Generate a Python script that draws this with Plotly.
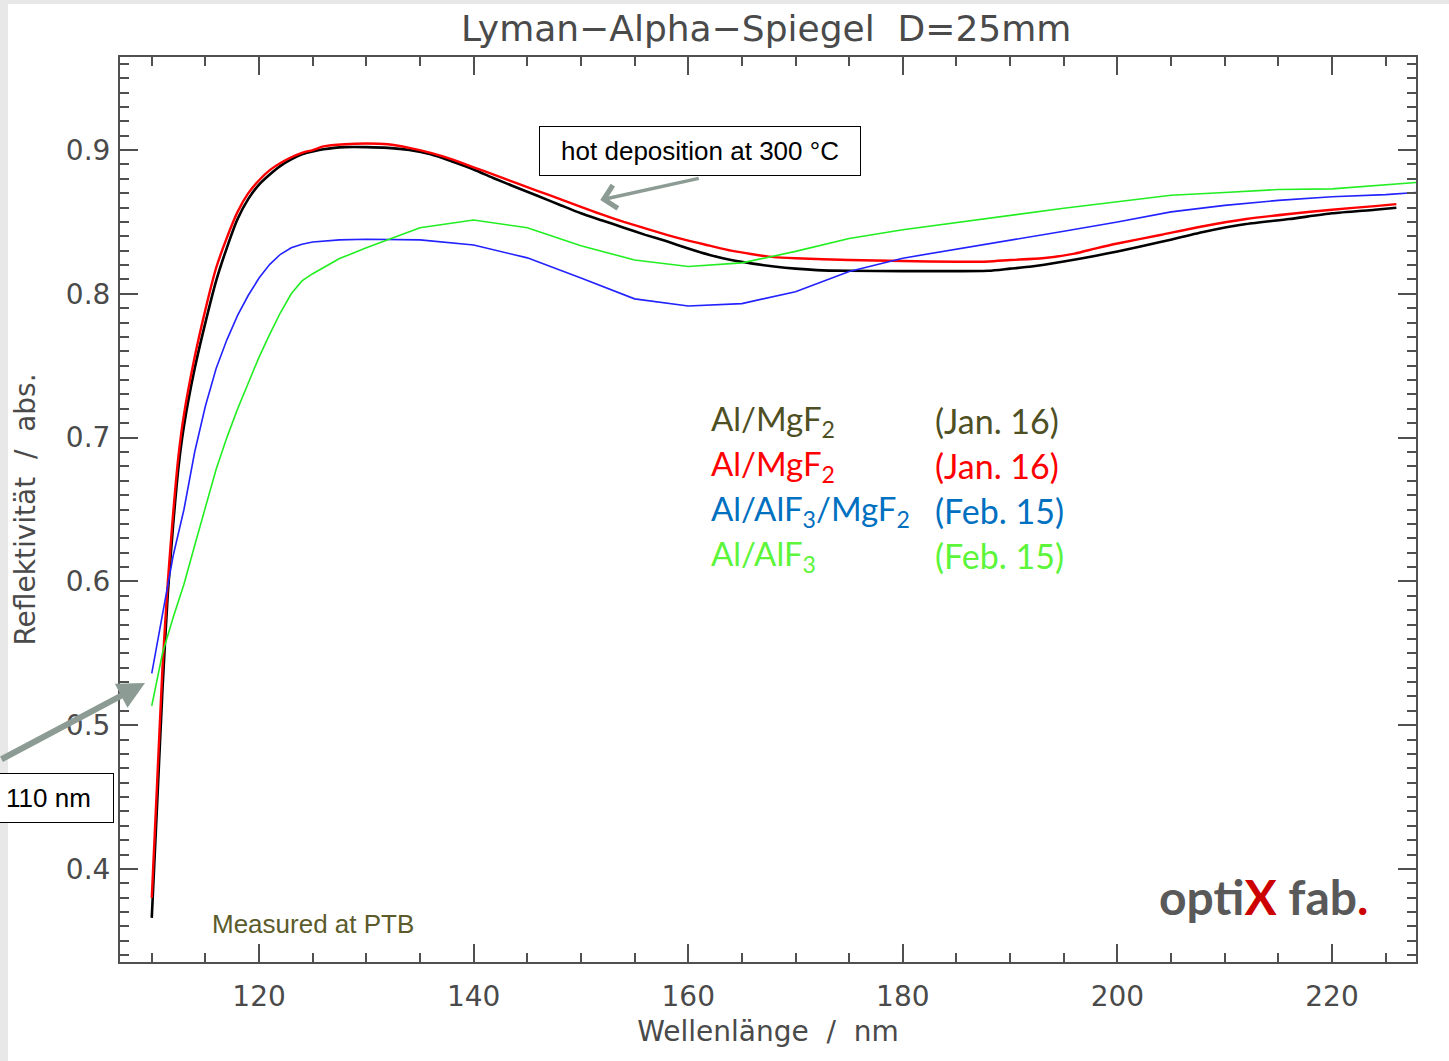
import plotly.graph_objects as go

# ---- data ----
black_x = [110.0, 110.5, 111.0, 111.5, 112.0, 112.5, 113.0, 114.0, 115.0, 116.0, 117.0, 118.0, 119.0, 120.0,
           121.0, 122.0, 123.0, 124.0, 125.0, 126.0, 127.0, 128.0, 130.0, 132.0, 134.0, 136.0, 138.0, 140.0,
           142.0, 144.0, 146.0, 148.0, 150.0, 152.0, 154.0, 156.0, 158.0, 160.0, 162.0, 164.0, 166.0, 168.0,
           170.0, 172.0, 175.0, 180.0, 185.0, 188.0, 190.0, 192.0, 195.0, 198.0, 200.0, 204.0, 208.0, 212.0,
           216.0, 220.0, 224.0, 226.0]
black_y = [0.366, 0.445, 0.525, 0.592, 0.640, 0.680, 0.708, 0.748, 0.780, 0.809, 0.832, 0.852, 0.866, 0.876,
           0.883, 0.889, 0.8935, 0.897, 0.899, 0.9005, 0.9015, 0.902, 0.902, 0.9015, 0.900, 0.897, 0.892, 0.8865,
           0.880, 0.874, 0.868, 0.862, 0.856, 0.851, 0.846, 0.841, 0.8365, 0.8315, 0.827, 0.8235, 0.821, 0.819,
           0.8175, 0.8165, 0.816, 0.8158, 0.8158, 0.816, 0.8175, 0.819, 0.8225, 0.8265, 0.8295, 0.836, 0.843, 0.8485,
           0.852, 0.856, 0.8585, 0.8599]

red_x = [110.0, 110.5, 111.0, 111.5, 112.0, 112.5, 113.0, 114.0, 115.0, 116.0, 117.0, 118.0, 119.0, 120.0,
         121.0, 122.0, 123.0, 124.0, 125.0, 126.0, 128.0, 130.0, 132.0, 134.0, 136.0, 138.0, 140.0, 142.0,
         144.0, 146.0, 148.0, 150.0, 152.0, 154.0, 156.0, 158.0, 160.0, 162.0, 164.0, 166.0, 168.0, 170.0,
         175.0, 180.0, 185.0, 188.0, 190.0, 193.0, 196.0, 198.0, 200.0, 204.0, 208.0, 212.0, 216.0, 220.0,
         224.0, 226.0]
red_y = [0.380, 0.460, 0.540, 0.600, 0.648, 0.688, 0.716, 0.756, 0.789, 0.818, 0.839, 0.857, 0.870, 0.879,
         0.886, 0.891, 0.895, 0.898, 0.900, 0.9025, 0.904, 0.9045, 0.904, 0.9015, 0.898, 0.8935, 0.888, 0.8825,
         0.877, 0.8715, 0.866, 0.8605, 0.855, 0.850, 0.8455, 0.841, 0.837, 0.8335, 0.830, 0.8275, 0.8255, 0.8247,
         0.8235, 0.8228, 0.8223, 0.8225, 0.8235, 0.8247, 0.828, 0.8316, 0.835, 0.8409, 0.847, 0.852, 0.8555, 0.8585,
         0.861, 0.8624]

blue_x = [110, 111, 112, 113, 114, 115, 116, 117, 118, 119, 120, 121, 122, 123, 124, 125, 127.5, 130, 135,
          140, 145, 150, 155, 160, 165, 170, 175, 180, 185, 190, 195, 200, 205, 210, 215, 220, 225, 228]
blue_y = [0.536, 0.578, 0.618, 0.650, 0.690, 0.722, 0.748, 0.768, 0.785, 0.799, 0.811, 0.8205, 0.8275, 0.832,
          0.8345, 0.836, 0.8375, 0.838, 0.8375, 0.834, 0.825, 0.811, 0.7965, 0.7915, 0.7932, 0.8015, 0.8155,
          0.8248, 0.831, 0.837, 0.8435, 0.850, 0.857, 0.8615, 0.865, 0.8675, 0.869, 0.8705]

green_x = [110, 111, 112, 113, 114, 115, 116, 117, 118, 119, 120, 121, 122, 123, 124, 125, 127.5, 130, 135,
           140, 145, 150, 155, 160, 165, 170, 175, 180, 185, 190, 195, 200, 205, 210, 215, 220, 225, 228]
green_y = [0.5134, 0.550, 0.575, 0.598, 0.625, 0.652, 0.678, 0.700, 0.720, 0.738, 0.756, 0.772, 0.787, 0.800,
           0.809, 0.814, 0.8245, 0.832, 0.846, 0.8513, 0.846, 0.8335, 0.8235, 0.819, 0.8215, 0.8295, 0.8385,
           0.8445, 0.8495, 0.855, 0.8595, 0.864, 0.8685, 0.8705, 0.8725, 0.873, 0.876, 0.8775]

legend_names = ["Al/MgF<sub>2</sub>", "Al/MgF<sub>2</sub>", "Al/AlF<sub>3</sub>/MgF<sub>2</sub>", "Al/AlF<sub>3</sub>"]
legend_dates = ["(Jan. 16)", "(Jan. 16)", "(Feb. 15)", "(Feb. 15)"]
legend_colors = ["#4f4f24", "#ff0000", "#0070c0", "#5cf53a"]

X_RANGE = [107.04, 227.83]
Y_RANGE = [0.3353, 0.9647]

fig = go.Figure()
fig.add_trace(go.Scatter(x=black_x, y=black_y, mode="lines", line=dict(color="#000000", width=2.6, shape="spline", smoothing=0.6)))
fig.add_trace(go.Scatter(x=red_x, y=red_y, mode="lines", line=dict(color="#ff0000", width=2.4, shape="spline", smoothing=0.6)))
fig.add_trace(go.Scatter(x=blue_x, y=blue_y, mode="lines", line=dict(color="#2222ff", width=1.6)))
fig.add_trace(go.Scatter(x=green_x, y=green_y, mode="lines", line=dict(color="#22ee22", width=1.6)))

axcol = "#505050"
txtcol = "#4a4a4a"
tickfont = dict(family="DejaVu Sans", size=28, color=txtcol)

fig.update_layout(
    width=1449, height=1061,
    margin=dict(l=120, r=33, t=57, b=99),
    paper_bgcolor="#e8e8e8",
    plot_bgcolor="white",
    showlegend=False,
    title=dict(text="Lyman\u2212Alpha\u2212Spiegel\u00a0\u00a0D=25mm", x=0.5288, xanchor="center", y=0.973, yanchor="middle",
               font=dict(family="DejaVu Sans", size=36, color=txtcol)),
    xaxis=dict(range=X_RANGE, showgrid=False, zeroline=False, showline=True, linecolor=axcol, linewidth=2,
               mirror="ticks", ticks="inside", ticklen=18, tickwidth=2, tickcolor=axcol,
               tick0=100, dtick=20, tickfont=tickfont, ticklabelstandoff=8,
               minor=dict(ticks="inside", dtick=5, ticklen=9, tickwidth=1.5, tickcolor=axcol, showgrid=False),
               title=dict(text="Wellenl\u00e4nge\u00a0\u00a0/\u00a0\u00a0nm", font=dict(family="DejaVu Sans", size=28, color=txtcol), standoff=10)),
    yaxis=dict(range=Y_RANGE, showgrid=False, zeroline=False, showline=True, linecolor=axcol, linewidth=2,
               mirror="ticks", ticks="inside", ticklen=18, tickwidth=2, tickcolor=axcol,
               tick0=0, dtick=0.1, tickformat=".1f", tickfont=tickfont, ticklabelstandoff=2,
               minor=dict(ticks="inside", dtick=0.01, ticklen=9, tickwidth=1.5, tickcolor=axcol, showgrid=False),
               title=dict(text="Reflektivit\u00e4t\u00a0\u00a0/\u00a0\u00a0abs.", font=dict(family="DejaVu Sans", size=28, color=txtcol), standoff=22)),
)

# white slide area (gray strip only at left/top edges)
fig.add_shape(type="rect", xref="paper", yref="paper", x0=-0.0864, x1=1.1, y0=-0.2, y1=1.0586,
              fillcolor="white", line=dict(width=0), layer="below")

arrow_col = "#8c9c94"
# hot deposition box + arrow
fig.add_annotation(x=161.12, y=0.8993, xref="x", yref="y", text="hot deposition at 300 \u00b0C", showarrow=False,
                   xanchor="center", yanchor="middle",
                   font=dict(family="Liberation Sans, Arial", size=26, color="black"),
                   bordercolor="black", borderwidth=1, bgcolor="white", width=320, height=48, borderpad=0)
fig.add_annotation(x=151.8, y=0.8652, xref="x", yref="y", ax=100, ay=-22, text="", showarrow=True,
                   arrowhead=4, arrowsize=1.3, arrowwidth=3.5, arrowcolor=arrow_col, standoff=0)

# 110 nm box + arrow
fig.add_annotation(x=-0.0552, y=0.1812, xref="paper", yref="paper", text="110 nm", showarrow=False,
                   xanchor="center", yanchor="middle",
                   font=dict(family="Liberation Sans, Arial", size=26, color="black"),
                   bordercolor="black", borderwidth=1, bgcolor="white", width=129, height=48, borderpad=0)
fig.add_annotation(x=109.37, y=0.5293, xref="x", yref="y", ax=-150, ay=77, text="", showarrow=True,
                   arrowhead=2, arrowsize=0.9, arrowwidth=6, arrowcolor=arrow_col, standoff=0)

# legend text
for i, (nm, dt, col) in enumerate(zip(legend_names, legend_dates, legend_colors)):
    py = 420 + i * 45
    yp = (962 - py) / 905
    fig.add_annotation(x=(709 - 120) / 1296, y=yp, xref="paper", yref="paper", text=nm, showarrow=False,
                       xanchor="left", yanchor="middle", font=dict(family="Lato", size=33, color=col))
    fig.add_annotation(x=(933 - 120) / 1296, y=yp, xref="paper", yref="paper", text=dt, showarrow=False,
                       xanchor="left", yanchor="middle", font=dict(family="Lato", size=34, color=col))

fig.add_annotation(x=(210 - 120) / 1296, y=(962 - 924) / 905, xref="paper", yref="paper", text="Measured at PTB",
                   showarrow=False, xanchor="left", yanchor="middle",
                   font=dict(family="Liberation Sans, Arial", size=26, color="#5b5b2b"))

fig.add_annotation(x=(1263 - 120) / 1296, y=(962 - 896) / 905, xref="paper", yref="paper",
                   text="<b>opti<span style='color:#cc0000'>X</span> fab<span style='color:#cc0000'>.</span></b>",
                   showarrow=False, xanchor="center", yanchor="middle",
                   font=dict(family="Lato", size=48, color="#595959"))

fig.write_html("out.html")
